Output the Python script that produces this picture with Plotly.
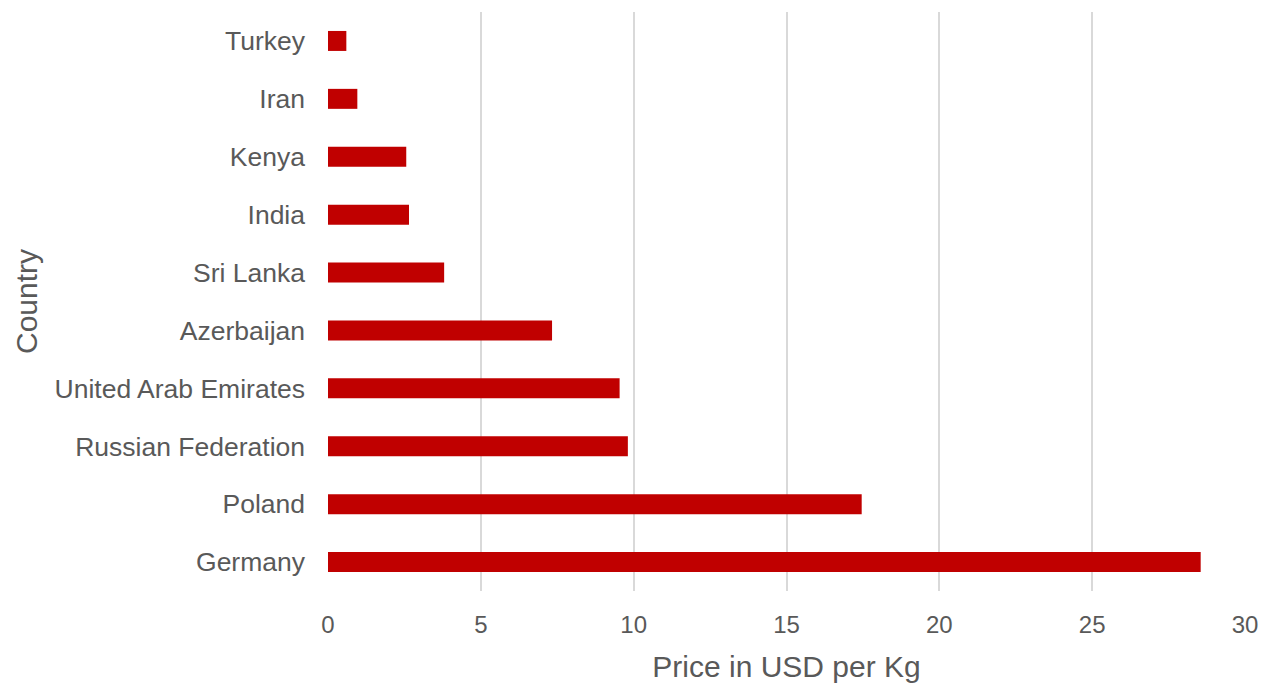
import plotly.graph_objects as go

# Average price per kilogram, listed bottom to top
countries = ["Germany", "Poland", "Russian Federation", "United Arab Emirates",
             "Azerbaijan", "Sri Lanka", "India", "Kenya", "Iran", "Turkey"]
price_usd_per_kg = [28.55, 17.46, 9.81, 9.54, 7.33, 3.80, 2.65, 2.56, 0.96, 0.60]

x_ticks = [0, 5, 10, 15, 20, 25, 30]

FONT = "Liberation Sans, Arial, sans-serif"
TEXT_COLOR = "#595959"

fig = go.Figure(
    go.Bar(
        x=price_usd_per_kg,
        y=countries,
        orientation="h",
        width=0.345,
        marker=dict(color="#c00000", line=dict(width=0)),
    )
)

fig.update_layout(
    width=1270,
    height=684,
    margin=dict(l=328, r=25, t=12, b=93),
    plot_bgcolor="white",
    paper_bgcolor="white",
    showlegend=False,
    font=dict(family=FONT, color=TEXT_COLOR),
)

fig.update_xaxes(
    range=[0, 30],
    tickvals=x_ticks,
    automargin=False,
    showgrid=True,
    gridcolor="#d9d9d9",
    gridwidth=2,
    zeroline=False,
    showline=False,
    ticks="",
    ticklabelstandoff=17,
    tickfont=dict(family=FONT, size=24, color=TEXT_COLOR),
    title=dict(text="Price in USD per Kg",
               font=dict(family=FONT, size=30, color=TEXT_COLOR),
               standoff=18),
)

fig.update_yaxes(
    categoryorder="array",
    categoryarray=countries,
    range=[-0.5, 9.5],
    automargin=False,
    showgrid=False,
    zeroline=False,
    showline=False,
    ticks="",
    ticklabelstandoff=22,
    tickfont=dict(family=FONT, size=26.5, color=TEXT_COLOR),
    title=dict(text="Country",
               font=dict(family=FONT, size=30, color=TEXT_COLOR),
               standoff=8),
)

fig.write_html("out.html")
